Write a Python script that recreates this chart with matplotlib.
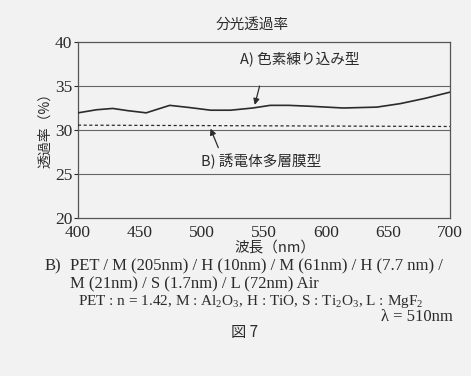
import matplotlib.pyplot as plt

plt.rcParams['mathtext.fontset'] = 'custom'
plt.rcParams['mathtext.rm'] = 'Liberation Serif'

JP = ['Noto Sans CJK JP', 'DejaVu Sans']
SERIF = ['Liberation Serif', 'DejaVu Serif']
INK = '#2b2b2b'

# spectral transmittance
wl_a = [400, 415, 428, 440, 455, 465, 474, 490, 507, 523, 541, 555, 570, 587, 614, 641, 660, 680, 700]
trans_a = [31.95, 32.3, 32.45, 32.2, 31.95, 32.4, 32.8, 32.55, 32.25, 32.25, 32.5, 32.8, 32.8, 32.7, 32.5, 32.6, 33.0, 33.6, 34.3]
wl_b = [400, 500, 600, 700]
trans_b = [30.55, 30.5, 30.45, 30.4]

xticks = [400, 450, 500, 550, 600, 650, 700]
yticks = [20, 25, 30, 35, 40]

W, H = 471, 376
fig = plt.figure(figsize=(W / 100, H / 100), dpi=100)
fig.patch.set_facecolor('#f2f2f2')
ax = fig.add_axes([78 / W, 1 - 218 / H, 372 / W, 176 / H])
ax.set_facecolor('#f2f2f2')

for v in [25, 30, 35]:
    ax.axhline(v, color='#666666', lw=0.8, zorder=1)
ax.plot(wl_a, trans_a, color=INK, lw=1.2, zorder=3)
ax.plot(wl_b, trans_b, color=INK, lw=0.9, ls=(0, (2.5, 2)), zorder=3)

ax.set_xlim(400, 700)
ax.set_ylim(20, 40)
ax.set_xticks(xticks)
ax.set_yticks(yticks)
ax.tick_params(axis='x', length=0, pad=5, labelsize=12.5, colors=INK)
ax.tick_params(axis='y', length=3, pad=1, labelsize=12.5, colors=INK)
for lab in ax.get_xticklabels() + ax.get_yticklabels():
    lab.set_family(SERIF)
for s in ax.spines.values():
    s.set_color('#555555')
    s.set_linewidth(0.9)

ax.set_ylabel('透過率（%）', family=JP, fontsize=10, color=INK)
ax.yaxis.set_label_coords(-0.07, 0.52)
fig.text(275 / W, 1 - 248 / H, '波長（nm）', family=JP, fontsize=10.5, color=INK,
         ha='center', va='center')
fig.text(252 / W, 1 - 25 / H, '分光透過率', family=JP, fontsize=10.5, color=INK,
         ha='center', va='center')

ax.text(579, 37.95, 'A) 色素練り込み型', family=JP, fontsize=10.5, color=INK,
        ha='center', va='center')
ax.annotate('', xy=(542, 32.55), xytext=(547, 35.3),
            arrowprops=dict(arrowstyle='-|>', color=INK, lw=0.9, mutation_scale=9))
ax.text(548, 26.4, 'B) 誘電体多層膜型', family=JP, fontsize=10.5, color=INK,
        ha='center', va='center')
ax.annotate('', xy=(506, 30.45), xytext=(514, 27.7),
            arrowprops=dict(arrowstyle='-|>', color=INK, lw=0.9, mutation_scale=9))

fig.text(45 / W, 1 - 266 / H, 'B)', family=SERIF, fontsize=12, color=INK, va='center')
fig.text(70 / W, 1 - 266 / H, 'PET / M (205nm) / H (10nm) / M (61nm) / H (7.7 nm) /',
         family=SERIF, fontsize=12, color=INK, va='center')
fig.text(70 / W, 1 - 284 / H, 'M (21nm) / S (1.7nm) / L (72nm) Air',
         family=SERIF, fontsize=12, color=INK, va='center')
fig.text(78 / W, 1 - 301 / H,
         r'PET : n = 1.42, M : Al$_2$O$_3$, H : TiO, S : Ti$_2$O$_3$, L : MgF$_2$',
         family=SERIF, fontsize=11, color=INK, va='center')
fig.text(453 / W, 1 - 317 / H, 'λ = 510nm', family=SERIF, fontsize=12,
         color=INK, va='center', ha='right')
fig.text(245 / W, 1 - 333 / H, '図 7', family=JP, fontsize=11, color=INK,
         va='center', ha='center')

fig.savefig('out.png', dpi=100, facecolor=fig.get_facecolor())
